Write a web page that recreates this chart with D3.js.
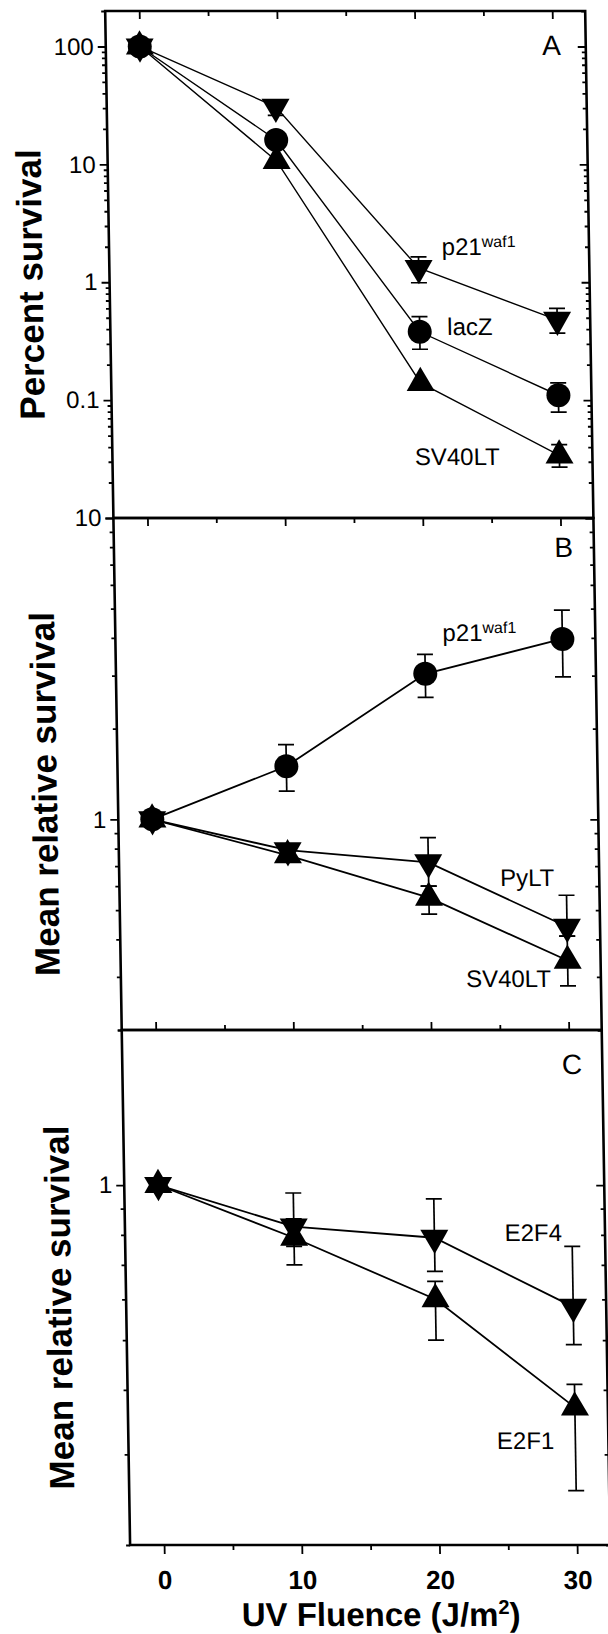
<!DOCTYPE html>
<html>
<head>
<meta charset="utf-8">
<script src="https://cdn.jsdelivr.net/npm/d3@7"></script>
<style>
  body { margin: 0; background: #fff; }
  text { font-family: "Liberation Sans", Arial, Helvetica, sans-serif; fill: #000; }
</style>
</head>
<body>
<div id="chart"></div>
<script>
// UV doses (J/m2) as plotted
var doses = [0, 9.8, 20, 30];
var xMajor = [0, 10, 20, 30];
var xMinor = [5, 15, 25];

// Panel A: percent survival
var aP21 = [100, 30.8, 1.32, 0.48];
var aP21Err = [null, [26, 33], [0.99, 1.64], [0.37, 0.6]];
var aLacZ = [100, 16.1, 0.38, 0.11];
var aLacZErr = [null, null, [0.27, 0.51], [0.079, 0.14]];
var aSV40 = [100, 10.7, 0.14, 0.034];
var aSV40Err = [null, null, null, [0.027, 0.042]];
var aTickLabels = [0.1, 1, 10, 100];

// Panel B: mean relative survival
var bP21 = [1, 1.5, 3.04, 3.97];
var bP21Err = [null, [1.24, 1.77], [2.54, 3.53], [2.97, 4.95]];
var bPyLT = [1, 0.79, 0.72, 0.44];
var bPyLTErr = [null, null, [0.6, 0.87], [0.41, 0.56]];
var bSV40 = [1, 0.76, 0.55, 0.34];
var bSV40Err = [null, null, [0.485, 0.6], [0.28, 0.41]];
var bTickLabels = [1, 10];

// Panel C: mean relative survival
var cE2F4 = [1, 0.83, 0.79, 0.58];
var cE2F4Err = [null, [0.76, 0.965], [0.68, 0.94], [0.49, 0.76]];
var cE2F1 = [1, 0.79, 0.6, 0.37];
var cE2F1Err = [null, [0.7, 0.86], [0.5, 0.65], [0.255, 0.41]];
var cTickLabels = [1];

var xL = 105, xR = 585;

var x = d3.scaleLinear().domain([0, 30]).range([139, 552]);
var yA = d3.scaleLog().domain([0.01, 200]).range([518, 11]);
var yB = d3.scaleLog().domain([0.2, 10]).range([1030, 518]);
var yC = d3.scaleLog().domain([0.2, 2]).range([1545, 1030]);

var panels = [
  {y: yA, labels: aTickLabels, title: "Percent survival", titleX: 38, letter: "A", letterAt: [29.9, 84.7],
   series: [
     {v: aP21, e: aP21Err, m: "down"},
     {v: aLacZ, e: aLacZErr, m: "circle"},
     {v: aSV40, e: aSV40Err, m: "up"}],
   notes: [
     {t: "p21", sup: "waf1", at: [21.7, 1.71]},
     {t: "lacZ", at: [22.0, 0.357]},
     {t: "SV40LT", at: [19.5, 0.0282]}],
   lineW: 1.4, topTicks: "in"},
  {y: yB, labels: bTickLabels, title: "Mean relative survival", titleX: 44, letter: "B", letterAt: [30.2, 7.4],
   series: [
     {v: bP21, e: bP21Err, m: "circle"},
     {v: bPyLT, e: bPyLTErr, m: "down"},
     {v: bSV40, e: bSV40Err, m: "up"}],
   notes: [
     {t: "p21", sup: "waf1", at: [21.3, 3.92]},
     {t: "PyLT", at: [25.2, 0.6]},
     {t: "SV40LT", at: [22.6, 0.277]}],
   lineW: 1.8, topTicks: "in", bottomTicks: "in"},
  {y: yC, labels: cTickLabels, title: "Mean relative survival", titleX: 50, letter: "C", letterAt: [30.2, 1.64],
   series: [
     {v: cE2F4, e: cE2F4Err, m: "down"},
     {v: cE2F1, e: cE2F1Err, m: "up"}],
   notes: [
     {t: "E2F4", at: [25.1, 0.78]},
     {t: "E2F1", at: [24.3, 0.307]}],
   lineW: 1.8, bottomTicks: "out"}
];

var svg = d3.select("#chart").append("svg")
  .attr("width", 608)
  .attr("height", 1634);

// the scan is slightly sheared
var root = svg.append("g").attr("transform", "skewX(0.93)");

function isPow10(d) {
  var l = Math.log10(d);
  return Math.abs(l - Math.round(l)) < 1e-9;
}

function markerPath(type) {
  var s = 28, h = s * Math.sqrt(3) / 2;
  if (type == "up") return "M0," + (-2 * h / 3) + "L" + (s / 2) + "," + (h / 3) + "L" + (-s / 2) + "," + (h / 3) + "Z";
  if (type == "down") return "M0," + (2 * h / 3) + "L" + (s / 2) + "," + (-h / 3) + "L" + (-s / 2) + "," + (-h / 3) + "Z";
  return d3.symbol(d3.symbolCircle, Math.PI * 12 * 12)();
}

function styleTicks(sel) {
  sel.select(".domain").remove();
  sel.selectAll("line").attr("stroke", "#000").attr("stroke-width", 1.8);
}

panels.forEach(function(p) {
  var y = p.y;
  var top = y.range()[1], bot = y.range()[0];
  var g = root.append("g");

  var ticks = y.ticks();
  var major = ticks.filter(isPow10);
  var minor = ticks.filter(function(d) { return !isPow10(d); });

  // left axis, ticks outward
  g.append("g").attr("transform", "translate(" + xL + ",0)")
    .call(d3.axisLeft(y).tickValues(minor).tickSize(4).tickFormat(""))
    .call(styleTicks);
  g.append("g").attr("transform", "translate(" + xL + ",0)")
    .call(d3.axisLeft(y).tickValues(major).tickSize(8).tickFormat(""))
    .call(styleTicks);
  g.append("g").attr("transform", "translate(" + xL + ",0)")
    .call(d3.axisLeft(y).tickValues(p.labels).tickSize(0).tickPadding(12)
      .tickFormat(function(d) { return d >= 1 ? d3.format("d")(d) : String(d); }))
    .call(styleTicks)
    .selectAll("text")
    .attr("font-size", 24)
    .attr("font-family", "Liberation Sans, Arial, sans-serif");

  // right axis, ticks inward
  g.append("g").attr("transform", "translate(" + xR + ",0)")
    .call(d3.axisLeft(y).tickValues(minor).tickSize(4).tickFormat(""))
    .call(styleTicks);
  g.append("g").attr("transform", "translate(" + xR + ",0)")
    .call(d3.axisLeft(y).tickValues(major).tickSize(8).tickFormat(""))
    .call(styleTicks);

  if (p.topTicks) {
    g.append("g").attr("transform", "translate(0," + top + ")")
      .call(d3.axisBottom(x).tickValues(xMajor).tickSize(8).tickFormat(""))
      .call(styleTicks);
    g.append("g").attr("transform", "translate(0," + top + ")")
      .call(d3.axisBottom(x).tickValues(xMinor).tickSize(5).tickFormat(""))
      .call(styleTicks);
  }
  if (p.bottomTicks == "in") {
    g.append("g").attr("transform", "translate(0," + bot + ")")
      .call(d3.axisTop(x).tickValues(xMajor).tickSize(8).tickFormat(""))
      .call(styleTicks);
    g.append("g").attr("transform", "translate(0," + bot + ")")
      .call(d3.axisTop(x).tickValues(xMinor).tickSize(5).tickFormat(""))
      .call(styleTicks);
  }
  if (p.bottomTicks == "out") {
    g.append("g").attr("transform", "translate(0," + bot + ")")
      .call(d3.axisBottom(x).tickValues(xMinor).tickSize(5).tickFormat(""))
      .call(styleTicks);
    g.append("g").attr("transform", "translate(0," + bot + ")")
      .call(d3.axisBottom(x).tickValues(xMajor).tickSize(9).tickPadding(17).tickFormat(d3.format("d")))
      .call(styleTicks)
      .selectAll("text")
      .attr("font-size", 26)
      .attr("font-weight", "bold")
      .attr("font-family", "Liberation Sans, Arial, sans-serif");
  }

  // frame
  g.append("rect")
    .attr("x", xL).attr("y", top)
    .attr("width", xR - xL).attr("height", bot - top)
    .attr("fill", "none").attr("stroke", "#000").attr("stroke-width", 2.6);

  var line = d3.line()
    .x(function(d, i) { return x(doses[i]); })
    .y(function(d) { return y(d); });

  p.series.forEach(function(s) {
    g.append("path")
      .attr("d", line(s.v))
      .attr("fill", "none")
      .attr("stroke", "#000")
      .attr("stroke-width", p.lineW);
  });

  p.series.forEach(function(s) {
    var eb = g.append("g").attr("stroke", "#000").attr("stroke-width", 1.7);
    s.e.forEach(function(e, i) {
      if (!e) return;
      var cx = x(doses[i]);
      eb.append("line").attr("x1", cx).attr("x2", cx).attr("y1", y(e[0])).attr("y2", y(e[1]));
      eb.append("line").attr("x1", cx - 8).attr("x2", cx + 8).attr("y1", y(e[0])).attr("y2", y(e[0]));
      eb.append("line").attr("x1", cx - 8).attr("x2", cx + 8).attr("y1", y(e[1])).attr("y2", y(e[1]));
    });
  });

  p.series.forEach(function(s) {
    g.selectAll(null)
      .data(s.v)
      .enter().append("path")
      .attr("d", markerPath(s.m))
      .attr("transform", function(d, i) { return "translate(" + x(doses[i]) + "," + y(d) + ")"; })
      .attr("fill", "#000");
  });

  p.notes.forEach(function(n) {
    var t = g.append("text")
      .attr("x", x(n.at[0]))
      .attr("y", y(n.at[1]))
      .attr("font-size", 24)
      .text(n.t);
    if (n.sup) {
      t.append("tspan").attr("dy", -8).attr("font-size", 16).text(n.sup);
    }
  });

  g.append("text")
    .attr("x", x(p.letterAt[0]))
    .attr("y", y(p.letterAt[1]))
    .attr("text-anchor", "middle")
    .attr("font-size", 28)
    .text(p.letter);

  g.append("text")
    .attr("transform", "translate(" + p.titleX + "," + ((top + bot) / 2 + 20) + ") rotate(-90)")
    .attr("text-anchor", "middle")
    .attr("font-size", 35)
    .attr("font-weight", "bold")
    .text(p.title);
});

root.append("text")
  .attr("x", 355)
  .attr("y", 1626)
  .attr("text-anchor", "middle")
  .attr("font-size", 33)
  .attr("font-weight", "bold")
  .text("UV Fluence (J/m")
  .append("tspan").attr("dy", -12).attr("font-size", 20).text("2")
  .select(function() { return this.parentNode; })
  .append("tspan").attr("dy", 12).attr("font-size", 33).text(")");
</script>
</body>
</html>
